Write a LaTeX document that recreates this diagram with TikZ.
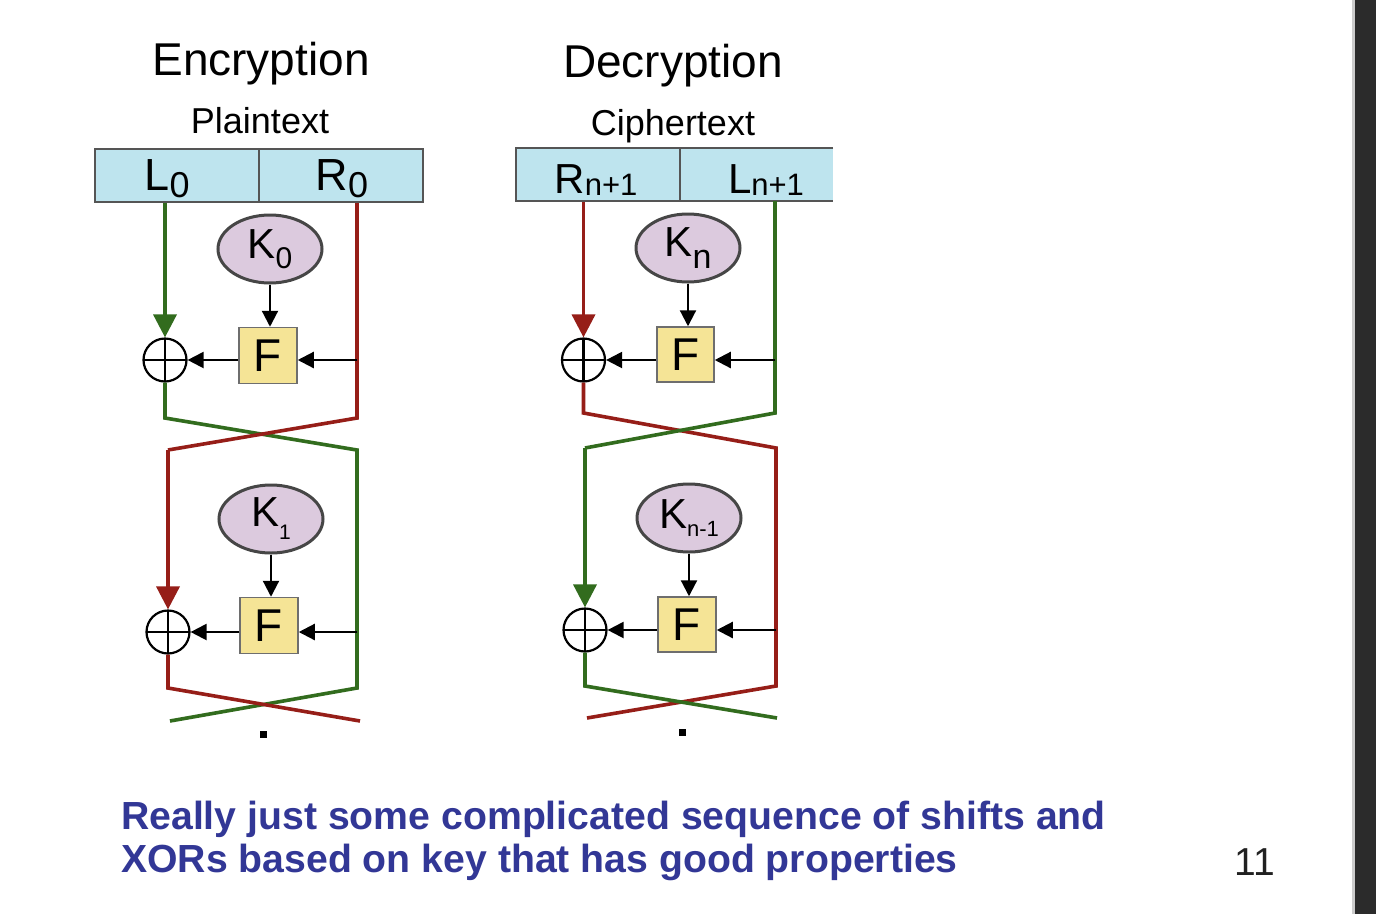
\documentclass[tikz,border=0pt]{standalone}
\usepackage{fontspec}
\setmainfont{Liberation Sans}
\usetikzlibrary{arrows.meta,shapes.geometric}

\definecolor{boxblue}{RGB}{190,228,238}
\definecolor{boxgray}{RGB}{85,85,85}
\definecolor{keypurple}{RGB}{220,202,222}
\definecolor{keygray}{RGB}{70,70,70}
\definecolor{fyellow}{RGB}{245,228,150}
\definecolor{fgray}{RGB}{110,110,110}
\definecolor{wgreen}{RGB}{50,108,30}
\definecolor{wred}{RGB}{150,30,24}
\definecolor{noteblue}{RGB}{50,55,150}
\definecolor{sidebar}{RGB}{43,43,43}

% lowered subscript: #1 drop, #2 size, #3 text
\newcommand\sbs[3]{\raisebox{-#1pt}{\fontsize{#2}{#2}\selectfont #3}}
\newcommand\fs[1]{\fontsize{#1}{#1}\selectfont}

\tikzset{
  half/.style={draw=boxgray, line width=2, fill=boxblue, minimum height=53,
    minimum width=164, inner sep=0},
  lbl/.style={inner sep=0, anchor=base},
  keyell/.style={ellipse, draw=keygray, line width=3, fill=keypurple,
    minimum width=104, minimum height=68, inner sep=0, font=\fs{42}},
  fbox/.style={draw=fgray, line width=1.5, fill=fyellow, minimum width=58,
    minimum height=56, inner sep=0, font=\fs{46}},
  xor/.style={circle, draw, line width=2.2, minimum size=43, inner sep=0,
    path picture={\draw[line width=2.2]
      (path picture bounding box.north) -- (path picture bounding box.south)
      (path picture bounding box.west) -- (path picture bounding box.east);}},
  gline/.style={draw=wgreen, line width=3.6},
  rline/.style={draw=wred, line width=3.6},
  ctip/.style={-{Triangle[length=23,width=23]}},
  barrow/.style={line width=2.2, -{Triangle[length=16,width=16]}},
  dot/.style={fill=black, minimum size=7, inner sep=0},
}

\begin{document}
\begin{tikzpicture}[x=1pt,y=-1pt]
\useasboundingbox (0,0) rectangle (1376,914);
\fill[white] (0,0) rectangle (1376,914);
\fill[black!20] (1352,0) rectangle (1355,914);
\fill[sidebar] (1355,0) rectangle (1376,914);

% ---------------- Encryption ----------------
\node[lbl, font=\fs{46}] (enctitle) at (261,75) {Encryption};
\node[lbl, font=\fs{36}] (plain) at (260,133) {Plaintext};
\node[half] (L0) at (177,175.5) {};
\node[half] (R0) at (341,175.5) {};
\node[lbl, font=\fs{45}] (L0t) at (167,190) {L\sbs{7}{36}{0}};
\node[lbl, font=\fs{45}] (R0t) at (342,190) {R\sbs{7}{36}{0}};

\node[keyell] (K0) at (270,249) {K\sbs{10}{30}{0}};
\node[fbox] (F1) at (268,355.5) {F};
\node[xor] (x1) at (165,360) {};

\node[keyell] (K1) at (271,519) {K\sbs{13}{21}{1}};
\node[fbox] (F2) at (269,625.5) {F};
\node[xor] (x2) at (168,632) {};

\coordinate (ea) at (165,418);
\coordinate (eb) at (357,418);
\coordinate (ec) at (168,450);
\coordinate (ed) at (357,450);
\coordinate (ee) at (168,688);
\coordinate (ef) at (357,688);
\coordinate (eg) at (170,721);
\coordinate (eh) at (360,721);

% left half (green) and right half (red)
\draw[gline, ctip] (x1.north |- L0.south) -- (x1.north);
\draw[gline] (x1.south) -- (ea) -- (ed) -- (ef) -- (eg);
\draw[rline] (eb |- R0.south) -- (eb) -- (ec);
\draw[rline, ctip] (ec) -- (x2.north);
\draw[rline] (x2.south) -- (ee) -- (eh);

% round functions
\draw[barrow] (K0.south) -- (K0.south |- F1.north);
\draw[barrow] (x1 -| eb) -- (x1 -| F1.east);
\draw[barrow] (x1 -| F1.west) -- (x1.east);
\draw[barrow] (K1.south) -- (K1.south |- F2.north);
\draw[barrow] (x2 -| ed) -- (x2 -| F2.east);
\draw[barrow] (x2 -| F2.west) -- (x2.east);

\node[dot] (edot) at (263,734) {};

% ---------------- Decryption ----------------
\node[lbl, font=\fs{46}] (dectitle) at (673,77) {Decryption};
\node[lbl, font=\fs{36}] (cipher) at (673,135) {Ciphertext};
\node[half] (Rn) at (598,174.5) {};
% right half runs off the edge: no closing border on its right side
\node[half, draw=none, outer sep=0, minimum width=153] (Ln) at (756.5,174.5) {};
\draw[draw=boxgray, line width=2] (Ln.north east) -- (Ln.north west)
  -- (Ln.south west) -- (Ln.south east);
\node[lbl, font=\fs{42}] (Rnt) at (596,193) {R\sbs{2}{31}{n+1}};
\node[lbl, font=\fs{42}] (Lnt) at (766,193) {L\sbs{2}{31}{n+1}};

\node[keyell] (Kn) at (688,248) {K\sbs{12}{34}{n}};
\node[fbox, minimum width=57, minimum height=55] (Fd1) at (685.5,354.5) {F};
\node[xor] (xd1) at (583.5,360) {};

\node[keyell] (Kn1) at (689,518) {K\sbs{8}{22}{n-1}};
\node[fbox, minimum height=55] (Fd2) at (687,624.5) {F};
\node[xor] (xd2) at (585,630) {};

\coordinate (da) at (583.5,413);
\coordinate (db) at (775,413);
\coordinate (dc) at (585,448);
\coordinate (dd) at (776,448);
\coordinate (de) at (585,686);
\coordinate (df) at (776,686);
\coordinate (dg) at (587,718);
\coordinate (dh) at (777,718);

% left half (red) and right half (green)
\draw[rline, ctip] (xd1.north |- Rn.south) -- (xd1.north);
\draw[rline] (xd1.south) -- (da) -- (dd) -- (df) -- (dg);
\draw[gline] (db |- Ln.south) -- (db) -- (dc);
\draw[gline, ctip] (dc) -- (xd2.north);
\draw[gline] (xd2.south) -- (de) -- (dh);

% round functions
\draw[barrow] (Kn.south) -- (Kn.south |- Fd1.north);
\draw[barrow] (xd1 -| db) -- (xd1 -| Fd1.east);
\draw[barrow] (xd1 -| Fd1.west) -- (xd1.east);
\draw[barrow] (Kn1.south) -- (Kn1.south |- Fd2.north);
\draw[barrow] (xd2 -| dd) -- (xd2 -| Fd2.east);
\draw[barrow] (xd2 -| Fd2.west) -- (xd2.east);

\node[dot] (ddot) at (682,732) {};

% ---------------- Note and page number ----------------
\node[inner sep=0, anchor=base west, text=noteblue, font=\fs{39.2}\bfseries]
  (note1) at (121,829) {Really just some complicated sequence of shifts and};
\node[inner sep=0, anchor=base west, text=noteblue, font=\fs{39.2}\bfseries]
  (note2) at (121,872) {XORs based on key that has good properties};
\node[lbl, text=black!87, font=\fs{39}] (page) at (1255,875) {11};
\end{tikzpicture}
\end{document}
